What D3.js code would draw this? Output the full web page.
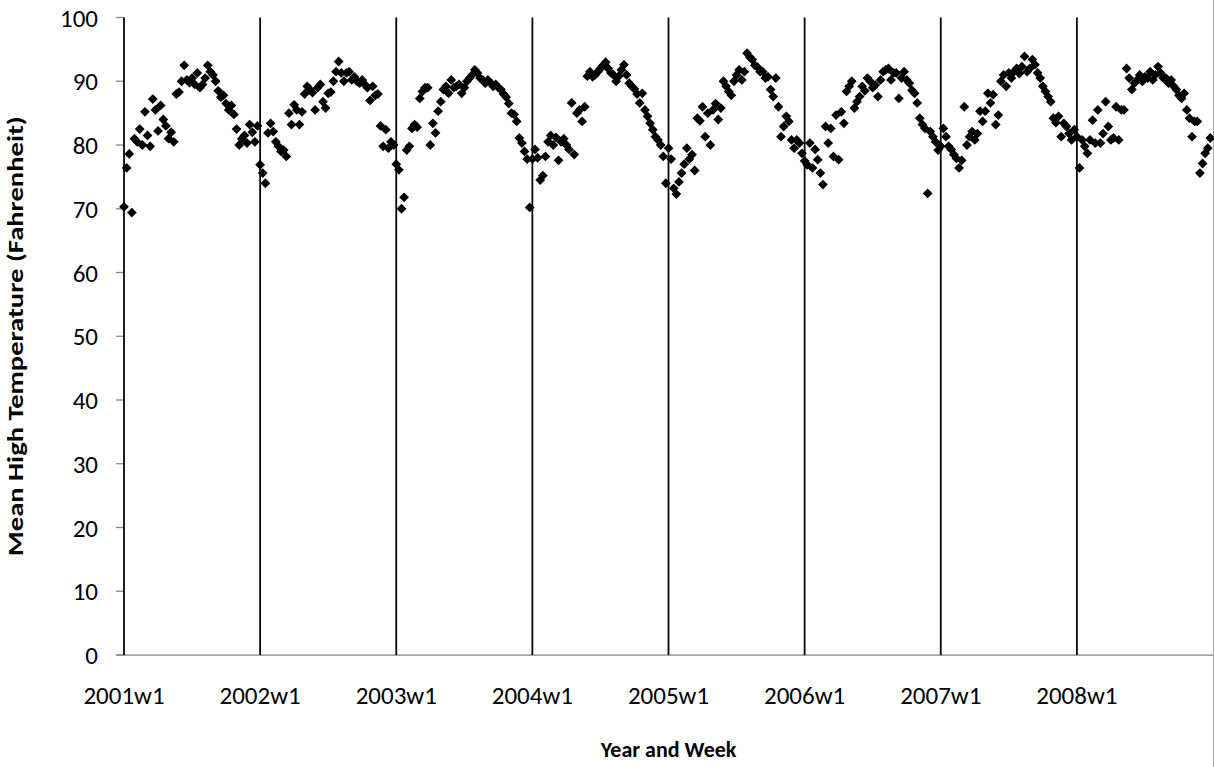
<!DOCTYPE html>
<html>
<head>
<meta charset="utf-8">
<script src="https://cdn.jsdelivr.net/npm/d3@7"></script>
<style>
  body { margin: 0; background: #fff; }
  svg { display: block; }
  text { font-family: Calibri, Carlito, Lato, sans-serif; fill: #000; }
</style>
</head>
<body>
<svg id="chart" width="1214" height="767"></svg>
<script>
// weekly mean high temperature, 52 weeks per year
const years = [2001, 2002, 2003, 2004, 2005, 2006, 2007, 2008];
const temps2001 = [70.3, 76.4, 78.6, 69.4, 81.0, 80.5, 82.5, 80.0, 85.2, 81.5, 79.8, 87.2, 85.5, 82.2, 86.2, 84.0, 83.0, 81.0, 82.0, 80.5, 88.0, 88.3, 90.0, 92.5, 90.2, 89.8, 90.5, 89.5, 91.3, 89.0, 89.5, 90.5, 92.5, 91.5, 91.0, 90.0, 88.5, 87.5, 87.8, 86.5, 85.5, 86.2, 84.8, 82.5, 80.0, 81.0, 81.5, 80.3, 83.2, 82.0, 80.5, 83.0];
const temps2002 = [76.9, 75.6, 74.0, 81.9, 83.4, 82.1, 80.5, 79.8, 79.0, 79.2, 78.2, 85.0, 83.2, 86.3, 85.5, 83.2, 85.2, 88.0, 89.2, 88.7, 88.2, 85.5, 89.0, 89.5, 86.8, 85.8, 88.1, 88.3, 90.0, 91.5, 93.1, 91.3, 90.0, 91.3, 91.5, 90.2, 90.7, 90.0, 89.7, 90.2, 89.5, 89.0, 87.0, 89.2, 87.8, 88.0, 83.0, 79.8, 82.4, 79.5, 80.5, 80.0];
const temps2003 = [77.0, 76.1, 70.0, 71.8, 79.2, 79.8, 82.6, 83.2, 82.8, 87.3, 88.4, 89.0, 89.0, 80.0, 83.4, 81.9, 85.3, 86.8, 88.7, 89.2, 88.1, 90.2, 89.0, 89.2, 89.5, 88.1, 89.0, 90.0, 90.5, 91.0, 91.8, 91.3, 90.5, 90.2, 89.7, 90.2, 89.8, 89.2, 89.5, 89.0, 88.7, 88.0, 87.5, 86.5, 85.0, 84.8, 83.7, 81.1, 80.3, 79.0, 77.8, 70.2];
const temps2004 = [77.8, 79.3, 78.0, 74.5, 75.2, 78.2, 80.5, 81.5, 80.0, 81.2, 77.6, 80.5, 81.0, 80.0, 79.3, 86.6, 78.5, 85.0, 85.5, 83.7, 86.0, 90.8, 91.5, 90.7, 91.0, 91.5, 92.0, 92.5, 93.0, 92.0, 91.3, 91.0, 90.0, 90.8, 91.8, 92.6, 91.0, 89.7, 89.2, 88.8, 88.0, 86.6, 88.1, 85.5, 84.5, 83.4, 82.4, 81.3, 80.8, 80.0, 78.2, 74.0];
const temps2005 = [79.5, 77.8, 73.2, 72.3, 74.2, 75.6, 77.0, 79.5, 77.8, 78.5, 76.0, 84.2, 83.8, 86.0, 81.3, 85.0, 80.0, 85.5, 86.5, 84.0, 85.8, 90.0, 89.2, 88.4, 87.8, 90.0, 91.0, 91.8, 90.2, 91.5, 94.4, 93.8, 93.4, 92.5, 92.2, 91.5, 91.5, 90.5, 90.7, 88.7, 87.6, 90.5, 86.0, 81.3, 82.9, 84.5, 83.7, 80.8, 79.5, 80.8, 80.3, 78.7];
const temps2006 = [77.5, 76.9, 80.3, 76.4, 79.3, 77.7, 75.6, 73.8, 82.9, 80.3, 82.6, 78.2, 84.7, 77.7, 85.2, 83.4, 88.4, 89.2, 90.0, 85.8, 86.8, 87.6, 89.2, 88.5, 90.5, 90.0, 89.0, 89.4, 87.6, 90.2, 91.5, 91.8, 92.0, 90.2, 91.3, 91.3, 87.3, 90.5, 91.5, 90.2, 89.7, 88.6, 88.1, 86.6, 84.2, 83.2, 82.6, 72.4, 82.1, 81.3, 80.5, 79.2];
const temps2007 = [79.8, 82.6, 81.3, 79.8, 79.3, 78.5, 77.9, 76.4, 77.6, 86.0, 80.0, 81.3, 82.1, 80.8, 81.8, 85.3, 83.7, 85.3, 88.1, 86.6, 87.9, 83.2, 84.7, 90.0, 91.0, 89.2, 91.3, 90.5, 91.5, 92.0, 91.2, 92.3, 93.9, 91.5, 92.0, 93.4, 92.6, 91.3, 90.5, 89.2, 88.4, 87.6, 86.8, 84.2, 83.5, 84.5, 81.3, 83.4, 82.9, 81.8, 80.8, 82.4];
const temps2008 = [81.3, 76.4, 80.8, 79.8, 78.7, 80.8, 83.9, 80.3, 85.5, 80.3, 81.8, 86.8, 82.9, 80.8, 81.1, 86.0, 80.8, 85.5, 85.5, 92.0, 90.5, 88.7, 89.7, 90.2, 91.0, 90.0, 90.7, 90.5, 91.5, 90.2, 91.0, 92.3, 91.3, 90.5, 90.5, 89.7, 90.2, 89.2, 88.7, 87.8, 87.3, 88.1, 85.5, 84.2, 81.3, 83.7, 83.7, 75.6, 77.1, 78.7, 79.5, 81.1];
const yTicks = [0, 10, 20, 30, 40, 50, 60, 70, 80, 90, 100];

const weeksPerYear = 52;
const tempsByYear = [temps2001, temps2002, temps2003, temps2004, temps2005, temps2006, temps2007, temps2008];

// flatten into one row per week
const points = [];
tempsByYear.forEach((temps, yi) => {
  temps.forEach((t, wi) => points.push({ index: yi * weeksPerYear + wi, temp: t }));
});

const plotLeft = 124;
const plotRight = 1213;
const plotTop = 17.5;
const plotBottom = 655;

const x = d3.scaleLinear().domain([0, years.length * weeksPerYear]).range([plotLeft, plotRight]);
const y = d3.scaleLinear().domain([0, 100]).range([plotBottom, plotTop]);

const svg = d3.select('#chart');

// x axis line
svg
  .append('line')
  .attr('x1', plotLeft - 8)
  .attr('x2', 1214)
  .attr('y1', plotBottom)
  .attr('y2', plotBottom)
  .attr('stroke', '#868686')
  .attr('stroke-width', 1.25);

// y ticks and labels
const gY = svg.append('g');
gY
  .selectAll('line')
  .data(yTicks)
  .enter()
  .append('line')
  .attr('x1', plotLeft - 8)
  .attr('x2', plotLeft)
  .attr('y1', d => y(d))
  .attr('y2', d => y(d))
  .attr('stroke', '#868686')
  .attr('stroke-width', 1.25);
gY
  .selectAll('text')
  .data(yTicks)
  .enter()
  .append('text')
  .attr('x', plotLeft - 26)
  .attr('y', d => y(d))
  .attr('dy', '0.36em')
  .attr('text-anchor', 'end')
  .attr('font-size', '25px')
  .text(d => d);

// year separator lines
svg
  .append('g')
  .selectAll('line')
  .data(years)
  .enter()
  .append('line')
  .attr('x1', (d, i) => x(i * weeksPerYear))
  .attr('x2', (d, i) => x(i * weeksPerYear))
  .attr('y1', y(100))
  .attr('y2', plotBottom)
  .attr('stroke', '#000')
  .attr('stroke-width', 1.75);

// right edge
svg
  .append('line')
  .attr('x1', 1213.5)
  .attr('x2', 1213.5)
  .attr('y1', 0)
  .attr('y2', 767)
  .attr('stroke', '#b0b0b0')
  .attr('stroke-width', 1);

// year labels
svg
  .append('g')
  .selectAll('text')
  .data(years)
  .enter()
  .append('text')
  .attr('x', (d, i) => x(i * weeksPerYear))
  .attr('y', 704)
  .attr('text-anchor', 'middle')
  .attr('font-size', '25px')
  .text(d => `${d}w1`);

// diamonds
const diamond = d3.symbol().type(d3.symbolSquare).size(48);
svg
  .append('g')
  .selectAll('path')
  .data(points)
  .enter()
  .append('path')
  .attr('d', diamond)
  .attr('transform', d => `translate(${x(d.index)},${y(d.temp)}) rotate(45)`)
  .attr('fill', '#000');

// axis titles
svg
  .append('text')
  .attr('x', (plotLeft + plotRight) / 2)
  .attr('y', 757)
  .attr('text-anchor', 'middle')
  .attr('font-size', '22px')
  .attr('font-weight', 'bold')
  .text('Year and Week');

svg
  .append('text')
  .attr('transform', `translate(23, ${(plotTop + plotBottom) / 2}) rotate(-90)`)
  .attr('text-anchor', 'middle')
  .attr('font-size', '22px')
  .attr('font-weight', 'bold')
  .attr('textLength', 440)
  .attr('lengthAdjust', 'spacingAndGlyphs')
  .text('Mean High Temperature (Fahrenheit)');
</script>
</body>
</html>
